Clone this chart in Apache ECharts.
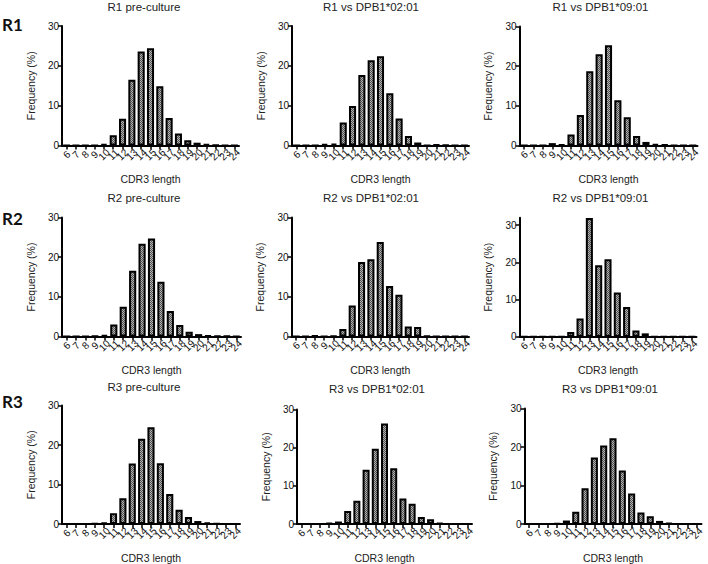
<!DOCTYPE html>
<html>
<head>
<meta charset="utf-8">
<script src="https://cdn.jsdelivr.net/npm/echarts@6/dist/echarts.min.js"></script>
<style>
html,body{margin:0;padding:0;background:#fff;}
#chart{width:708px;height:564px;}
</style>
</head>
<body>
<div id="chart"></div>
<script>
// ---- data ----
var categories = ['6','7','8','9','10','11','12','13','14','15','16','17','18','19','20','21','22','23','24'];
var yTicks = [0, 10, 20, 30];

var r1Pre  = [0,0,0,0.05,0.4,2.6,6.7,16.5,23.6,24.4,14.9,6.9,3.0,1.3,0.7,0.35,0.1,0.05,0];
var r1V02  = [0,0,0,0.4,0.5,5.8,9.9,17.7,21.4,22.4,13.1,6.8,2.4,0.75,0.05,0.2,0.15,0,0];
var r1V09  = [0,0,0,0.6,0.3,2.8,7.7,18.7,23.0,25.3,11.4,7.1,2.4,0.9,0.4,0.2,0.05,0,0];
var r2Pre  = [0,0,0,0.1,0.4,3.0,7.5,16.6,23.4,24.7,13.8,6.4,2.9,1.2,0.6,0.25,0.15,0.1,0.05];
var r2V02  = [0,0,0.2,0,0.15,1.9,7.8,18.8,19.5,23.8,12.7,10.5,2.5,2.4,0.15,0,0,0,0];
var r2V09  = [0,0,0,0,0,1.25,4.9,31.9,19.2,20.8,11.9,8.0,1.7,0.9,0,0,0,0,0];
var r3Pre  = [0,0,0,0.1,0.4,2.7,6.5,15.3,21.6,24.5,15.4,7.6,3.6,1.75,0.75,0.35,0.15,0.05,0];
var r3V02  = [0,0,0,0.25,0.65,3.4,6.1,14.2,19.7,26.3,14.6,6.7,5.3,1.85,1.25,0.25,0.05,0,0];
var r3V09  = [0,0,0,0.15,0.9,3.2,9.3,17.25,20.4,22.25,13.9,7.9,3.0,2.0,0.8,0.3,0.05,0,0];

var panelTitles = ['R1 pre-culture','R1 vs DPB1*02:01','R1 vs DPB1*09:01',
                   'R2 pre-culture','R2 vs DPB1*02:01','R2 vs DPB1*09:01',
                   'R3 pre-culture','R3 vs DPB1*02:01','R3 vs DPB1*09:01'];
var panelSeries = [r1Pre, r1V02, r1V09, r2Pre, r2V02, r2V09, r3Pre, r3V02, r3V09];
var panelMax = [30,30,30,30,30,32,30,30,30];
var rowLabels = ['R1','R2','R3'];
var xName = 'CDR3 length';
var yName = 'Frequency (%)';

// ---- layout (positions / styles only) ----
var grids = [
  [62, 26, 177, 119.5], [292, 26, 177, 119.5], [519.5, 26.5, 178, 119],
  [62, 217.5, 179, 119], [291.5, 217.5, 177.5, 119], [519.5, 217.7, 177, 119],
  [62, 405.5, 178, 119.5], [297, 409.5, 175, 119.2], [524.5, 408.5, 177, 119.8]
];
var titlePos = [[144,7],[371,7],[600.5,7],[144,198],[371,198],[600.5,198],[144,387],[377,389],[610,389]];
var rowLabelPos = [[2,24],[2,218],[2,401]];

var FONT = '"Liberation Sans", Arial, sans-serif';

// crosshatch fill pattern
var pat = document.createElement('canvas');
pat.width = 2; pat.height = 2;
var pctx = pat.getContext('2d');
pctx.fillStyle = '#b4b4b4'; pctx.fillRect(0,0,2,2);
pctx.fillStyle = '#505050'; pctx.fillRect(0,0,1,1); pctx.fillRect(1,1,1,1);

var option = {
  animation: false,
  backgroundColor: '#fff',
  grid: [], xAxis: [], yAxis: [], series: [], graphic: []
};

for (var i = 0; i < 9; i++) {
  var g = grids[i];
  option.grid.push({left: g[0], top: g[1], width: g[2], height: g[3], containLabel: false});
  option.xAxis.push({
    type: 'category', gridIndex: i, data: categories, boundaryGap: true,
    name: xName, nameLocation: 'middle', nameGap: 28,
    nameTextStyle: {fontFamily: FONT, fontSize: 10.5, color: '#222'},
    axisLine: {show: true, lineStyle: {color: '#000', width: 2}},
    axisTick: {show: true, alignWithLabel: true, length: 4, lineStyle: {color: '#000', width: 1.5}},
    axisLabel: {show: true, interval: 0, rotate: 45, align: 'center', verticalAlign: 'middle', margin: 9,
                fontFamily: FONT, fontSize: 10, color: '#111'},
    splitLine: {show: false}
  });
  option.yAxis.push({
    type: 'value', gridIndex: i, min: 0, max: panelMax[i], interval: 10,
    name: yName, nameLocation: 'middle', nameGap: 26, nameRotate: 90,
    nameTextStyle: {fontFamily: FONT, fontSize: 10.5, color: '#222'},
    axisLine: {show: true, onZero: false, lineStyle: {color: '#000', width: 2}},
    axisTick: {show: true, length: 4, lineStyle: {color: '#000', width: 1.5}, customValues: yTicks},
    axisLabel: {show: true, margin: 3, fontFamily: FONT, fontSize: 10, color: '#111', customValues: yTicks},
    splitLine: {show: false}
  });
  option.series.push({
    type: 'bar', xAxisIndex: i, yAxisIndex: i, data: panelSeries[i],
    barWidth: '76%',
    itemStyle: {color: {image: pat, repeat: 'repeat'}, borderColor: '#000', borderWidth: 2}
  });
  option.graphic.push({
    type: 'text', x: titlePos[i][0], y: titlePos[i][1],
    style: {text: panelTitles[i], fontFamily: FONT, fontSize: 11.5, fill: '#222',
            textAlign: 'center', textVerticalAlign: 'middle'}
  });
}
for (var r = 0; r < 3; r++) {
  option.graphic.push({
    type: 'text', x: rowLabelPos[r][0], y: rowLabelPos[r][1],
    style: {text: rowLabels[r], fontFamily: 'Lato, "Open Sans", sans-serif', fontWeight: 'bold', fontSize: 17, fill: '#111',
            textAlign: 'left', textVerticalAlign: 'middle'}
  });
}

var chart = echarts.init(document.getElementById('chart'), null, {renderer: 'svg', width: 708, height: 564});
chart.setOption(option);
</script>
</body>
</html>
